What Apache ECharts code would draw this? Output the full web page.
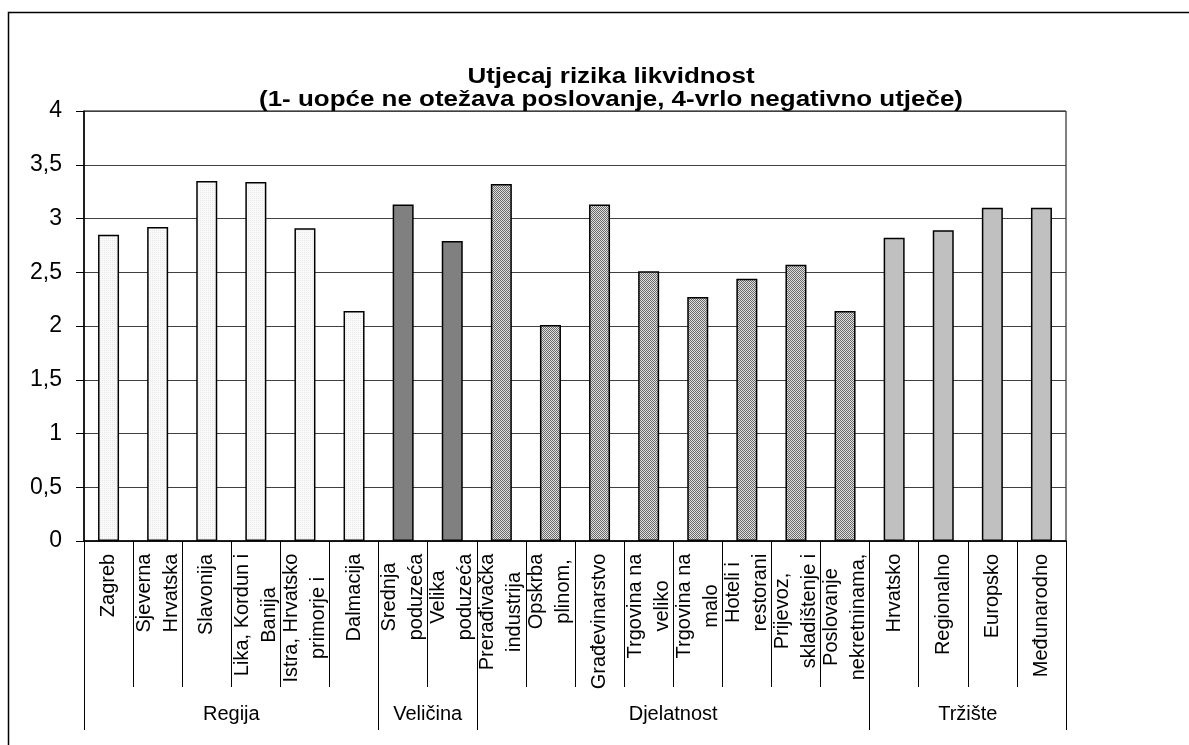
<!DOCTYPE html>
<html>
<head>
<meta charset="utf-8">
<script src="https://cdn.jsdelivr.net/npm/echarts@6/dist/echarts.min.js"></script>
<style>
html,body{margin:0;padding:0;background:#fff;}
#chart{width:1189px;height:745px;}
</style>
</head>
<body>
<div id="chart"></div>
<script>
const titleText = 'Utjecaj rizika likvidnost\n(1- uopće ne otežava poslovanje, 4-vrlo negativno utječe)';
const regijaLabels = ['Zagreb', 'Sjeverna\nHrvatska', 'Slavonija', 'Lika, Kordun i\nBanija', 'Istra, Hrvatsko\nprimorje i', 'Dalmacija'];
const regijaValues = [2.85, 2.92, 3.35, 3.34, 2.91, 2.14];
const velicinaLabels = ['Srednja\npoduzeća', 'Velika\npoduzeća'];
const velicinaValues = [3.13, 2.79];
const djelatnostLabels = ['Prerađivačka\nindustrija', 'Opskrba\nplinom,', 'Građevinarstvo', 'Trgovina na\nveliko', 'Trgovina na\nmalo', 'Hoteli i\nrestorani', 'Prijevoz,\nskladištenje i', 'Poslovanje\nnekretninama,'];
const djelatnostValues = [3.32, 2.01, 3.13, 2.51, 2.27, 2.44, 2.57, 2.14];
const trzisteLabels = ['Hrvatsko', 'Regionalno', 'Europsko', 'Međunarodno'];
const trzisteValues = [2.82, 2.89, 3.10, 3.10];
const groupNames = ['Regija', 'Veličina', 'Djelatnost', 'Tržište'];
const yTicks = [0, 0.5, 1, 1.5, 2, 2.5, 3, 3.5, 4];

const FONT = "'Liberation Sans', Arial, sans-serif";
const CAT_FS = 20;

function makeChecker() {
  const c = document.createElement('canvas');
  c.width = 2; c.height = 2;
  const ctx = c.getContext('2d');
  ctx.fillStyle = '#e0e0e0'; ctx.fillRect(0, 0, 2, 2);
  ctx.fillStyle = '#6a6a6a'; ctx.fillRect(0, 0, 1, 1); ctx.fillRect(1, 1, 1, 1);
  return c;
}
function makeDots() {
  const c = document.createElement('canvas');
  c.width = 2; c.height = 2;
  const ctx = c.getContext('2d');
  ctx.fillStyle = '#fafafa'; ctx.fillRect(0, 0, 2, 2);
  ctx.fillStyle = '#e8e8e8'; ctx.fillRect(0, 0, 1, 1);
  return c;
}
const groups = [
  { labels: regijaLabels, values: regijaValues, color: { image: makeDots(), repeat: 'repeat' } },
  { labels: velicinaLabels, values: velicinaValues, color: '#808080' },
  { labels: djelatnostLabels, values: djelatnostValues, color: { image: makeChecker(), repeat: 'repeat' } },
  { labels: trzisteLabels, values: trzisteValues, color: '#c0c0c0' }
];

const categories = [];
const barData = [];
const groupBounds = [0];
const groupCenters = [];
groups.forEach(g => {
  const start = categories.length;
  g.labels.forEach((l, i) => {
    categories.push(l);
    barData.push({ value: g.values[i], itemStyle: { color: g.color } });
  });
  groupBounds.push(categories.length);
  groupCenters.push((start + categories.length) / 2);
});

const mctx = document.createElement('canvas').getContext('2d');
mctx.font = CAT_FS + "px 'Liberation Sans', Arial, sans-serif";
const rich = {};
categories.forEach((c, i) => {
  const w = Math.max(...c.split('\n').map(s => mctx.measureText(s).width));
  rich['r' + i] = { width: Math.ceil(w) + 1, align: 'center', fontSize: CAT_FS, fontFamily: FONT, color: '#000', lineHeight: 27 };
});

const chart = echarts.init(document.getElementById('chart'));
chart.setOption({
  animation: false,
  backgroundColor: '#fff',
  graphic: [{
    type: 'rect',
    shape: { x: 8.5, y: 12.5, width: 1300, height: 800 },
    style: { fill: null, stroke: '#000', lineWidth: 1.5 },
    silent: true
  }, {
    type: 'text',
    x: 611, y: 65,
    scaleX: 1.18, scaleY: 1,
    silent: true,
    style: {
      text: titleText,
      align: 'center', verticalAlign: 'top',
      font: "bold 22px 'Liberation Sans', Arial, sans-serif",
      lineHeight: 23,
      fill: '#000'
    }
  }],
  grid: {
    left: 84, top: 111, right: 123, bottom: 204,
    show: true, borderColor: '#000', borderWidth: 1, backgroundColor: 'transparent'
  },
  yAxis: {
    type: 'value', min: 0, max: 4, interval: 0.5,
    axisLine: { show: true, lineStyle: { color: '#000', width: 1.5 } },
    axisTick: { show: true, length: 8, lineStyle: { color: '#000' } },
    splitLine: { show: true, lineStyle: { color: '#404040', width: 1 } },
    axisLabel: {
      fontFamily: FONT, fontSize: 23, color: '#000', margin: 22,
      formatter: v => (yTicks.includes(v) ? String(v).replace('.', ',') : '')
    }
  },
  xAxis: [{
    type: 'category',
    data: categories,
    axisLine: { show: true, lineStyle: { color: '#000', width: 1.5 } },
    axisTick: { show: true, interval: 0, length: 146, lineStyle: { color: '#000', width: 1 } },
    axisLabel: {
      interval: 0, rotate: 90, margin: 12,
      fontFamily: FONT, fontSize: CAT_FS, color: '#000',
      formatter: (v, idx) => v.split('\n').map(s => '{r' + idx + '|' + s + '}').join('\n'),
      rich: rich
    }
  }, {
    type: 'value',
    min: 0, max: categories.length,
    position: 'bottom',
    offset: 146,
    axisLine: { show: false },
    splitLine: { show: false },
    axisTick: { show: true, customValues: groupBounds, length: 43, lineStyle: { color: '#000', width: 1 } },
    axisLabel: {
      customValues: groupCenters,
      margin: 17,
      fontFamily: FONT, fontSize: 20, color: '#000',
      formatter: v => groupNames[groupCenters.indexOf(v)] || ''
    }
  }],
  series: [{
    type: 'bar',
    xAxisIndex: 0,
    data: barData,
    barWidth: 21,
    itemStyle: { borderColor: '#000', borderWidth: 1.5 }
  }]
});
</script>
</body>
</html>
